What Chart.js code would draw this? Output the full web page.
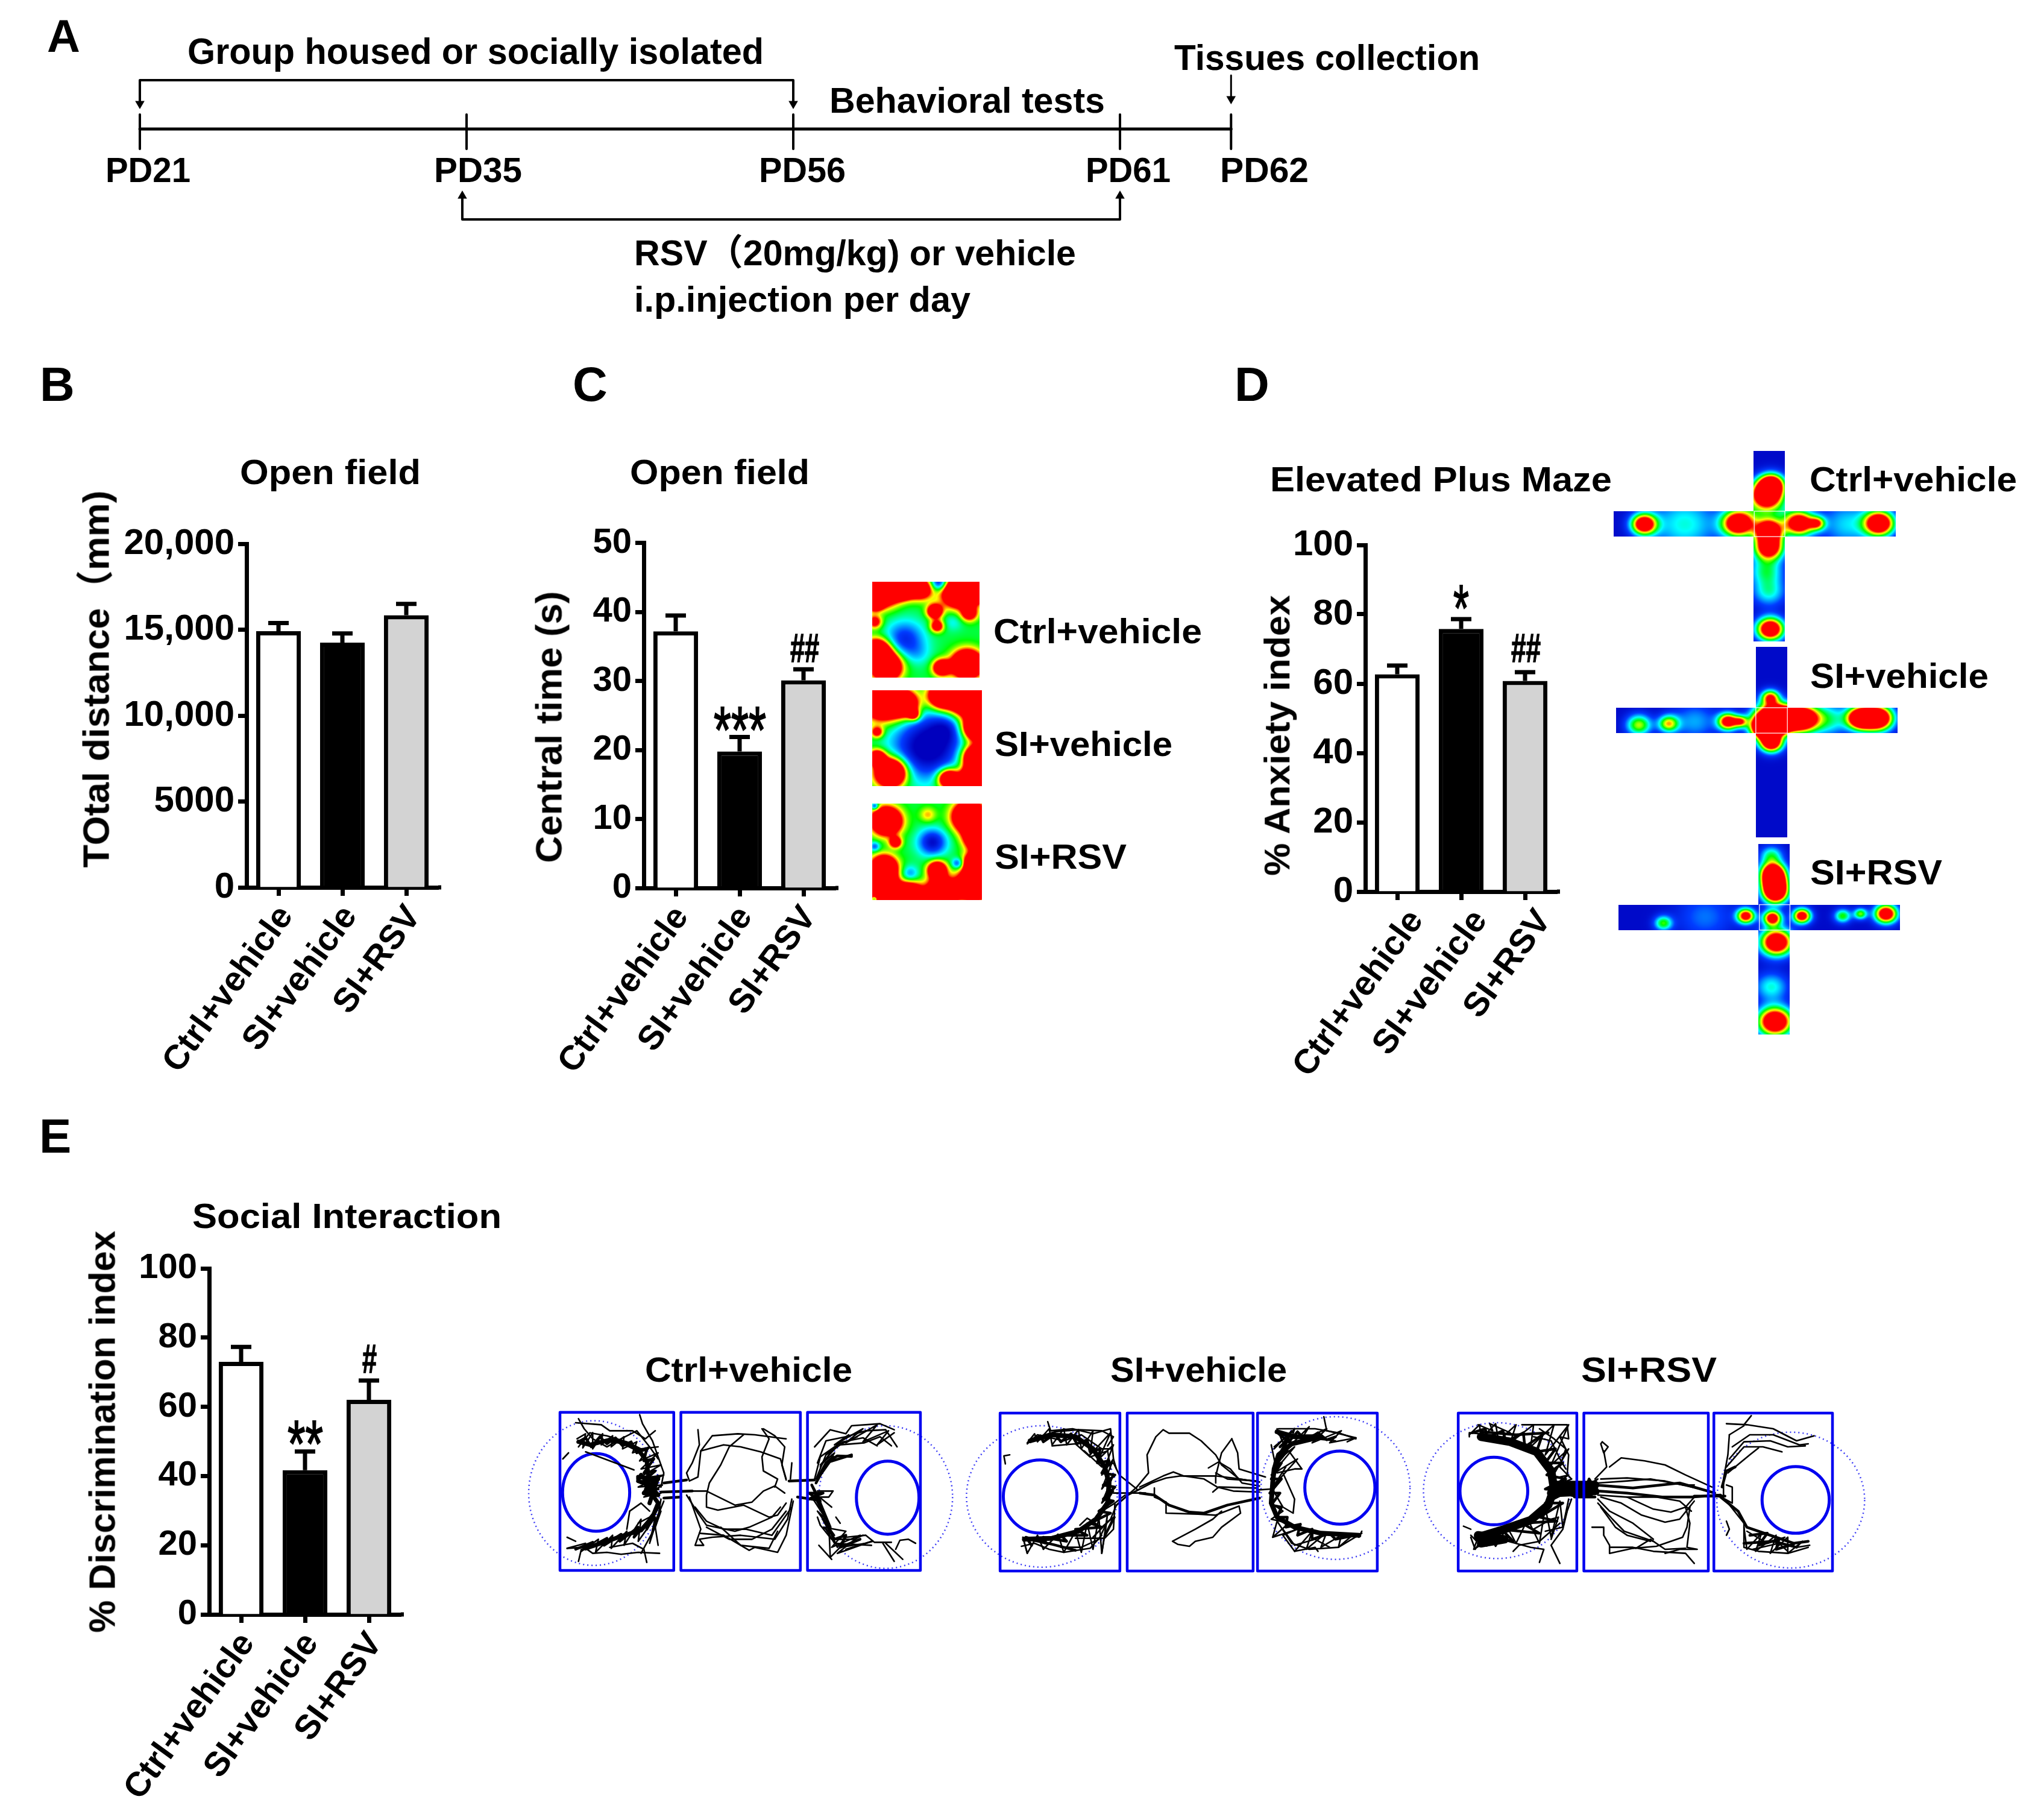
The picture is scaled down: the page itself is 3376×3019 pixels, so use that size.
<!DOCTYPE html>
<html>
<head>
<meta charset="utf-8">
<title>Social isolation behavior figure</title>
<script src="https://cdn.jsdelivr.net/npm/chart.js@4"></script>
<style>
    html, body { margin: 0; padding: 0; background: #fff; }
    #figure { position: relative; width: 3376px; height: 3019px; overflow: hidden; background: #fff; }
    #figure canvas { position: absolute; }
    .lbl { position: absolute; white-space: pre; color: #000; font-weight: bold; line-height: 1; font-family: "Liberation Sans", "Noto Sans CJK SC", sans-serif; }
    .star { font-weight: normal; -webkit-text-stroke: 2px #000; }
    .hash { -webkit-text-stroke: 1.5px #000; }
</style>
</head>
<body>
<div id="figure"></div>
<script>
// ---- bar data ----
const groups = ["Ctrl+vehicle", "SI+vehicle", "SI+RSV"];

const distanceMeans = [14910, 14250, 15840];
const distanceUpper = [15390, 14780, 16500];
const distanceTicks = ["0", "5000", "10,000", "15,000", "20,000"];

const centralMeans = [37.2, 19.8, 30.1];
const centralUpper = [39.5, 21.9, 31.7];

const anxietyMeans = [62.7, 75.8, 60.8];
const anxietyUpper = [65.2, 78.6, 63.3];

const discriminationMeans = [73.0, 41.7, 62.0];
const discriminationUpper = [77.3, 47.1, 67.6];

// ---- timeline ----
const timelineDays = ["PD21", "PD35", "PD56", "PD61", "PD62"];
const timelineSlots = [0, 1, 2, 3, 3.34];
const housingBracket = [[0, 172], [0, 133], [2, 133], [2, 172]];
const rsvBracket = [[0.987, 325], [0.987, 364], [3, 364], [3, 325]];
const tissuesArrow = [[3.34, 125], [3.34, 164]];

// ---- open field heat maps: x, y, radius, strength ----
const openCtrlBlobs = [[800,395,32,1.2],[830,385,22,.9],[850,392,20,.9],[885,392,22,.8],[785,425,15,.8],[965,400,30,1.2],[1000,395,25,1.2],[990,450,16,.6],[915,445,15,.8],[920,480,13,.6],[790,540,25,1.1],[810,575,28,1.2],[985,570,28,1.3],[930,578,17,.8],[785,470,14,.5],[850,510,30,-.35],[955,470,15,-.12],[880,545,20,-.1],[925,378,14,-.5]];
const openSiBlobs = [[805,660,35,1.2],[850,665,25,1],[870,690,12,.5],[930,645,25,1],[985,650,35,1.3],[1005,720,25,1.2],[1005,790,25,1.2],[1000,840,25,1.3],[945,840,20,1],[820,825,28,1.3],[790,790,16,.8],[790,730,12,.5],[900,765,55,-.6],[940,720,25,-.2]];
const openRsvBlobs = [[990,930,30,1.3],[1010,980,25,1.2],[1005,1040,22,1.2],[800,1100,30,1.3],[860,1115,25,1.2],[930,1108,28,1.2],[1000,1090,30,1.3],[810,940,28,1.2],[830,990,12,.6],[805,1050,25,1.1],[920,1055,18,.9],[910,990,22,-.45],[785,1000,8,-.3],[965,1040,9,-.35],[785,1122,6,-.5],[785,905,6,-.4],[900,925,16,.25],[860,1065,14,-.25]];

// ---- plus maze heat maps ----
const mazeCtrlBlobs = [[1040,170,28,1.1],[1050,145,22,1],[1045,255,24,1.1],[1045,295,26,1.1],[1048,487,24,1.2],[800,240,22,1.1],[985,238,28,1.2],[1105,238,26,1.1],[1140,238,14,.6],[1262,238,26,1.2],[1045,400,30,.35],[1040,350,30,.4],[880,240,60,.35],[1200,240,50,.3],[1045,200,40,.3]];
const mazeSiBlobs = [[1048,648,16,.75],[1050,700,32,1.3],[1035,720,22,1.1],[1070,700,24,1.3],[1050,755,20,1.1],[1110,698,28,1.3],[1225,697,24,1.3],[1260,697,26,1.3],[965,705,18,1],[990,705,12,.6],[848,710,18,.65],[790,713,22,.6],[1160,700,35,.4],[900,705,40,.25]];
const mazeRsvBlobs = [[1053,1060,22,1.1],[1056,1085,22,1.1],[1058,1110,22,1.1],[1050,1020,20,.4],[1052,1168,16,1],[1060,1225,28,1.2],[1000,1163,16,.95],[1110,1163,16,1],[1275,1158,20,1.1],[1225,1158,12,.55],[1190,1163,15,.5],[838,1180,16,.5],[1057,1412,30,1.25],[1050,1330,30,.35],[920,1165,50,.2]];

// ---- three chamber tracks ----
const ctrlBoxes = [[125,68,525,855],[550,68,970,855],[995,68,1392,855]];
const ctrlCups = [[252,467,118,193],[1277,493,110,182]];
const ctrlZones = [[245,470,230,360],[1270,490,235,355]];
const ctrlHeavy = [
    [[190,215],[230,230],[300,205],[350,220],[400,255],[430,310],[435,380],[430,430],[450,480],[470,520]],
    [[215,745],[280,715],[340,685],[410,655],[450,590],[470,520]],
    [[400,390],[470,400],[430,440],[460,470],[420,420],[400,410]],
    [[410,380],[470,480],[420,470],[470,390],[440,520]]
];
const ctrlMedium = [
    [[490,420],[570,405]], [[480,465],[590,460]], [[490,495],[550,490]],
    [[930,410],[1020,405]], [[960,490],[1030,505]],
    [[1150,288],[1100,285],[1060,320],[1030,400]],
    [[1000,500],[1050,470],[1000,470],[1040,510],[1010,430],[1040,520]],
    [[190,215],[215,195],[235,240],[265,190],[290,225],[320,195],[345,235],[375,215],[395,270],[430,250],[420,310],[455,300],[420,370],[460,360],[410,420],[465,400],[425,450],[470,450]],
    [[180,750],[240,715],[225,745],[290,695],[280,730],[340,675],[335,710],[400,640],[385,690],[440,600],[430,650],[470,540]],
    [[1025,420],[1060,330],[1040,380],[1085,290],[1060,320],[1150,280]],
    [[1040,520],[1075,640],[1050,600],[1090,700],[1130,680],[1110,740],[1180,700]]
];
const ctrlThin = [
    [[185,200],[215,175],[205,245],[240,170],[240,250],[275,175],[270,230],[310,185],[305,240],[350,190],[345,250],[395,215],[380,270],[440,240],[405,310],[470,270],[410,350],[480,330],[395,400],[490,380],[400,440],[485,430],[420,490],[480,470]],
    [[150,745],[215,720],[200,760],[260,700],[250,765],[310,680],[305,745],[360,660],[350,730],[410,600],[400,710],[460,590],[440,720],[480,540],[450,650],[490,510]],
    [[1030,400],[1090,270],[1040,330],[1110,220],[1060,280],[1140,180],[1090,230],[1190,150],[1130,220],[1240,130],[1190,215],[1280,160],[1240,230],[1300,170]],
    [[1020,490],[1060,600],[1030,560],[1090,680],[1050,640],[1130,660],[1080,740],[1180,680],[1100,770],[1220,710],[1130,750]],
    [[190,100],[210,150],[240,200],[290,240],[340,200],[395,160],[440,240],[470,300]],
    [[405,80],[415,125],[450,210],[470,290],[490,370],[480,440]],
    [[180,120],[270,130],[300,160],[380,160],[425,200],[460,160]],
    [[190,240],[230,170],[290,185],[360,215],[410,250],[470,240]],
    [[215,265],[300,310],[385,355]], [[135,300],[155,270]], [[150,690],[180,710]],
    [[150,745],[210,740],[240,770],[290,765],[340,775],[400,765],[475,770]],
    [[200,750],[190,810]], [[300,740],[380,720],[420,750],[430,815]],
    [[410,770],[460,640],[470,590],[480,500]], [[360,650],[370,560],[410,520],[440,560]],
    [[400,620],[440,590],[470,540]], [[470,730],[460,640],[480,560]],
    [[610,155],[615,230],[590,320],[570,370],[580,410],[610,390],[620,260],[660,185],[750,175],[810,180],[890,195],[920,200]],
    [[620,260],[700,230],[760,240],[830,265],[900,300],[920,400]],
    [[840,150],[880,185],[915,240],[905,330],[920,405]],
    [[770,180],[720,240],[690,330],[650,420],[640,480],[640,540],[680,555],[770,530],[860,590],[890,580],[920,520]],
    [[560,460],[640,460],[740,530],[800,515],[840,460],[880,435],[915,470]],
    [[835,150],[860,200],[835,290],[840,360],[890,400],[880,440]],
    [[570,480],[610,570],[640,630],[740,660],[790,640],[870,590],[900,540]],
    [[580,490],[620,650],[600,730],[630,730],[615,700],[660,690],[760,680],[880,700],[925,600],[940,500]],
    [[600,540],[640,610],[700,650],[780,650],[870,680],[940,540]],
    [[615,670],[700,680],[790,755],[810,740],[890,765],[920,680],[945,510]],
    [[640,640],[720,700],[800,700],[870,650],[920,560]],
    [[690,640],[760,730],[860,745],[890,660]], [[940,320],[935,400]],
    [[1020,240],[1075,155],[1130,175],[1150,135],[1250,125],[1300,155]],
    [[1030,320],[1060,210],[1130,190],[1200,160],[1270,155],[1310,240]],
    [[1025,400],[1060,280],[1110,230],[1195,220],[1250,190],[1290,235]],
    [[1040,340],[1080,260],[1120,215],[1190,195],[1240,235]],
    [[1020,400],[1040,290],[1090,240],[1170,190]],
    [[1030,460],[1085,460],[1070,490],[1030,490]],
    [[1020,480],[1060,590],[1080,680],[1100,740],[1130,690],[1200,680],[1230,715],[1290,715]],
    [[1010,490],[1070,620],[1075,790],[1110,740],[1200,720],[1225,710]],
    [[1035,730],[1080,800]], [[1030,590],[1040,630],[1080,700],[1160,700],[1190,680]],
    [[1060,650],[1090,720],[1220,730]], [[1260,720],[1300,810]], [[1270,720],[1330,800]],
    [[1305,750],[1320,705],[1350,700],[1375,720]], [[1095,590],[1110,620]], [[1020,470],[1080,540]]
];

const siBoxes = [[122,72,532,858],[557,72,988,858],[1003,72,1413,858]];
const siCups = [[259,487,126,182],[1285,443,120,182]];
const siZones = [[265,487,258,352],[1270,445,255,355]];
const siHeavy = [
    [[225,210],[300,180],[380,190],[440,250],[480,340],[495,420],[490,520],[450,600],[390,660],[300,695],[205,700]],
    [[1070,165],[1130,190],[1220,190],[1120,225],[1075,280],[1060,350],[1055,420],[1050,520],[1070,590],[1130,640],[1220,670],[1350,680]]
];
const siMedium = [
    [[220,700],[300,725],[380,755]],
    [[600,470],[650,480],[700,530],[770,565],[820,570],[900,530],[1010,495]],
    [[225,215],[260,185],[270,215],[310,175],[330,215],[365,175],[385,225],[420,205],[430,265],[465,250],[455,320],[495,310],[470,370],[515,380],[475,430],[515,440],[475,500],[510,510],[460,560],[500,570],[430,620],[470,640],[380,650],[420,680],[330,680],[350,710],[270,690],[280,720],[210,690],[230,730]],
    [[1075,175],[1110,215],[1140,165],[1170,210],[1210,170],[1240,205],[1270,190]],
    [[1080,240],[1110,200],[1075,290],[1105,260],[1060,340],[1085,320],[1050,400],[1085,400],[1045,470],[1080,470],[1050,530],[1085,540],[1070,590],[1105,590],[1100,640],[1150,625],[1140,680],[1190,650],[1190,700],[1250,670],[1270,700],[1340,680]]
];
const siThin = [
    [[215,220],[240,175],[250,215],[290,150],[300,230],[340,150],[350,230],[390,155],[400,250],[440,160],[430,280],[500,170],[460,300],[510,230],[470,380],[510,300],[470,450],[510,380],[470,520],[510,460],[460,570],[515,520]],
    [[200,690],[215,770],[250,680],[270,750],[320,675],[340,765],[380,660],[400,765],[420,620],[440,750],[460,590],[470,770],[490,570],[480,690],[515,590]],
    [[1070,150],[1090,220],[1130,150],[1110,240],[1180,140],[1150,210],[1240,150],[1190,220],[1290,160],[1250,220],[1340,195]],
    [[1060,250],[1120,160],[1060,320],[1130,240],[1050,380],[1140,300],[1060,430],[1100,340]],
    [[1050,520],[1090,560],[1050,600],[1110,620],[1055,690],[1140,650],[1090,680],[1130,760],[1190,660],[1170,750],[1240,665],[1220,740],[1290,680],[1280,740],[1360,670]],
    [[240,195],[310,165],[390,155],[470,160],[510,190],[490,235]],
    [[285,115],[295,160],[370,150],[440,175],[500,150],[510,300],[520,350]],
    [[215,225],[250,180],[340,210],[400,180],[470,250],[505,250]],
    [[300,235],[380,225],[430,290],[490,260],[500,350]],
    [[410,260],[470,340],[510,320],[530,380],[590,450]],
    [[140,325],[135,285],[155,280]],
    [[395,630],[420,595],[470,640],[510,590],[480,680],[470,770]],
    [[200,690],[215,770]],
    [[195,735],[240,720],[290,750],[340,765],[430,745],[470,680]],
    [[380,695],[480,695],[510,650],[515,520],[550,480]],
    [[440,690],[500,600],[520,530],[590,440]],
    [[330,740],[400,740],[460,700],[490,610]],
    [[520,530],[560,480],[600,450]], [[510,470],[580,470],[620,470]],
    [[590,440],[630,370],[625,280],[655,190],[680,155],[700,172],[770,172],[810,210],[860,280],[880,330],[940,400],[1010,415]],
    [[575,470],[640,420],[690,395],[740,385],[860,385],[920,395],[1010,415]],
    [[600,440],[680,385],[715,365],[750,385],[820,400],[865,440],[920,460],[1010,465]],
    [[850,465],[870,440],[1000,445]],
    [[650,445],[650,490],[690,515],[690,570],[800,575],[860,580],[940,535],[945,570],[880,640],[850,690],[790,710],[770,735],[730,725],[712,710],[790,650],[850,600],[880,560]],
    [[915,200],[880,270],[860,385],[860,420]],
    [[915,200],[935,270],[940,350],[1030,390]],
    [[835,345],[870,315],[910,350],[950,420],[1010,435]],
    [[860,370],[900,400],[1000,410]], [[1000,455],[1050,450]],
    [[1230,90],[1240,160],[1340,195],[1310,215]],
    [[1075,150],[1140,150],[1200,150],[1280,170],[1340,200]],
    [[1060,240],[1110,180],[1200,200],[1270,210]],
    [[1050,230],[1070,370],[1130,350],[1155,350],[1110,260]],
    [[1090,370],[1130,500],[1125,570],[1090,540],[1050,440]],
    [[1055,690],[1070,610],[1120,720],[1180,750],[1280,740],[1320,690]],
    [[1090,650],[1130,730],[1200,700],[1250,740]],
    [[1130,760],[1200,740],[1210,760]], [[1360,660],[1350,690]]
];

const rsvBoxes = [[122,72,528,858],[552,72,978,858],[997,72,1403,858]];
const rsvCups = [[244,460,116,168],[1277,504,115,166]];
const rsvZones = [[255,458,252,338],[1260,505,253,338]];
const rsvHeavy = [
    [[190,690],[280,650],[370,605],[430,530],[450,450],[440,360],[390,265],[300,215],[200,190]],
    [[460,430],[590,430]], [[440,470],[590,460]], [[190,680],[280,700],[200,720]]
];
const rsvMedium = [
    [[200,165],[320,180],[430,170]], [[590,430],[720,445],[880,420],[1000,470]],
    [[600,460],[700,470],[820,490],[920,490],[1020,480]],
    [[520,490],[590,490]], [[930,485],[1035,485]], [[1025,440],[1040,360],[1070,340]],
    [[1020,490],[1080,560],[1110,640],[1210,690],[1270,720],[1320,710]],
    [[1100,720],[1200,710],[1280,740]],
    [[170,170],[215,150],[220,195],[275,160],[285,215],[345,170],[350,240],[410,180],[390,265],[455,250],[420,320],[480,320],[425,380],[490,400],[420,450],[500,460],[420,520],[480,520],[400,590],[460,610],[340,620],[400,670],[270,650],[310,710],[200,680],[220,730]],
    [[1120,680],[1180,670],[1150,730],[1220,700],[1210,750],[1270,725]],
    [[520,420],[550,480],[570,400],[600,470]]
];
const rsvThin = [
    [[160,180],[195,130],[200,200],[250,125],[260,210],[320,130],[300,220],[380,130],[370,240],[450,130],[420,280],[500,130],[440,330],[500,250],[440,400],[500,380],[430,450],[510,400]],
    [[165,690],[180,750],[220,660],[250,735],[290,640],[320,720],[360,600],[400,720],[420,540],[440,690],[470,510],[480,640],[500,500]],
    [[1100,640],[1110,750],[1160,670],[1140,760],[1210,680],[1190,770],[1250,690],[1250,770],[1300,710],[1280,740],[1325,730]],
    [[480,400],[580,480],[500,480],[600,400],[530,490],[590,440]],
    [[340,130],[440,130],[495,130],[500,200],[470,190],[500,280],[495,380]],
    [[380,190],[440,210],[470,300],[490,350]],
    [[400,150],[450,200],[490,250],[470,340],[510,400]],
    [[190,130],[240,160],[230,125],[300,170]], [[160,190],[160,170],[200,175]],
    [[140,635],[165,650]],
    [[165,680],[185,710],[175,750],[210,720],[280,705],[370,740],[415,750],[400,815]],
    [[470,820],[440,730],[480,650],[495,560],[510,500]],
    [[310,760],[330,730],[400,710],[470,620]],
    [[380,650],[440,600],[465,590],[440,700]], [[420,660],[480,640]], [[500,480],[525,490]],
    [[615,215],[635,240],[620,270],[610,225],[615,215]],
    [[620,260],[630,340],[590,400]],
    [[640,340],[680,295],[760,310],[830,330],[900,380],[990,440]],
    [[610,400],[700,395],[830,410],[980,460]],
    [[600,420],[700,410],[780,400],[890,430],[930,430]],
    [[600,480],[700,490],[790,550],[850,565],[900,540],[930,490]],
    [[610,490],[680,520],[750,580],[830,615],[880,600],[930,510]],
    [[600,500],[640,560],[720,620],[790,700]],
    [[600,520],[650,600],[690,660],[790,710]],
    [[610,540],[660,640],[700,680],[780,710]],
    [[580,640],[620,640],[620,680],[640,730],[640,770],[720,745],[800,735],[890,690],[905,640],[915,540]],
    [[640,740],[720,740],[790,760],[900,770],[930,820]],
    [[900,540],[915,620],[905,740],[940,750],[880,750],[830,770]],
    [[730,745],[780,700],[830,750],[900,745]],
    [[700,490],[800,490],[880,510],[920,560]],
    [[1040,125],[1110,130],[1200,150],[1280,210],[1340,185]],
    [[1100,130],[1125,85]], [[1050,180],[1100,135]],
    [[1050,180],[1045,280],[1030,400],[1030,480]],
    [[1060,240],[1120,180],[1200,180],[1290,230],[1320,225]],
    [[1050,300],[1100,215],[1190,210],[1250,240],[1310,235]],
    [[1040,340],[1100,240],[1165,240],[1230,265]],
    [[1045,370],[1120,280],[1150,245]],
    [[1040,510],[1100,620],[1100,740],[1150,760],[1250,770],[1320,740]],
    [[1110,660],[1180,720],[1240,690]], [[1040,610],[1050,650],[1040,680]],
    [[1130,750],[1220,720],[1250,760]], [[1010,480],[1060,520],[1060,440],[1040,430]]
];

// ---- page texts: start x, baseline y, font size, length, angle, class ----
const pageLabels = [
    ["A", 78, 86, 76], ["B", 66, 666, 80], ["C", 950, 666, 80], ["D", 2048, 666, 80], ["E", 65, 1913, 80],
    ["Group housed or socially isolated", 311, 106, 62, 956],
    ["Tissues collection", 1948, 117, 60, 507],
    ["Behavioral tests", 1376, 188, 60, 457],
    [timelineDays[0], 175, 302, 57, 141], [timelineDays[1], 720, 302, 57, 146], [timelineDays[2], 1259, 302, 57, 144],
    [timelineDays[3], 1801, 302, 57, 141], [timelineDays[4], 2024, 302, 57, 147],
    ["RSV（20mg/kg) or vehicle", 1052, 441, 60, 733],
    ["i.p.injection per day", 1052, 518, 60, 558],
    ["Open field", 398, 803, 58, 300], ["Open field", 1045, 803, 58, 298],
    ["Elevated Plus Maze", 2107, 815, 58, 567], ["Social Interaction", 319, 2037, 58, 513],
    ["TOtal distance（mm)", 181, 1439, 62, 626, -90], ["Central time (s)", 932, 1431, 62, 451, -90],
    ["% Anxiety index", 2140, 1453, 60, 468, -90], ["% Discrimination index", 191, 2708, 62, 667, -90],
    [groups[0], 1648, 1067, 58, 346], [groups[1], 1650, 1254, 58, 295], [groups[2], 1650, 1441, 58, 219],
    [groups[0], 3002, 815, 58, 344], [groups[1], 3003, 1141, 58, 296], [groups[2], 3003, 1467, 58, 219],
    [groups[0], 1070, 2292, 58, 344], [groups[1], 1842, 2292, 58, 293], [groups[2], 2623, 2292, 58, 225],
    ["***", 1184, 1248, 110, 87, 0, "star"], ["##", 1311, 1098, 66, 48, 0, "hash"], ["*", 2411, 1046, 110, 26, 0, "star"],
    ["##", 2507, 1098, 66, 49, 0, "hash"], ["**", 477, 2432, 110, 59, 0, "star"], ["#", 601, 2277, 66, 24, 0, "hash"]
];

const figure = document.getElementById("figure");
const BLACK = "#000", BLUE = "#0000f0";
const FONT_FAMILY = '"Liberation Sans", sans-serif';

function addCanvas(left, top, width, height) {
    const c = document.createElement("canvas");
    c.width = width;
    c.height = height;
    c.style.cssText = `left:${left}px;top:${top}px;width:${width}px;height:${height}px`;
    figure.appendChild(c);
    return c;
}

// error bar (upper only) and the small overrun of the x axis
const capsPlugin = {
    id: "upperCaps",
    afterDatasetsDraw(chart, args, opts) {
        const ctx = chart.ctx, y = chart.scales.y;
        ctx.save();
        ctx.strokeStyle = BLACK;
        ctx.lineWidth = 7;
        chart.getDatasetMeta(0).data.forEach((bar, i) => {
            const top = y.getPixelForValue(opts.upper[i]);
            ctx.beginPath();
            ctx.moveTo(bar.x, bar.y);
            ctx.lineTo(bar.x, top);
            ctx.moveTo(bar.x - 17, top);
            ctx.lineTo(bar.x + 17, top);
            ctx.stroke();
        });
        ctx.beginPath();
        ctx.moveTo(chart.chartArea.right, chart.chartArea.bottom);
        ctx.lineTo(chart.chartArea.right + 5, chart.chartArea.bottom);
        ctx.stroke();
        ctx.restore();
    }
};

function barChart(box, plot, values, upper, yMax, yStep, tickFormat, tickSize, labelShift) {
    const c = addCanvas(box.left, box.top, box.right - box.left, box.bottom - box.top);
    return new Chart(c, {
        type: "bar",
        data: {
            labels: groups,
            datasets: [{
                data: values,
                backgroundColor: ["#ffffff", "#000000", "#d3d3d3"],
                borderColor: BLACK,
                borderWidth: 7,
                categoryPercentage: 1,
                barPercentage: 0.7
            }]
        },
        options: {
            responsive: false,
            animation: false,
            devicePixelRatio: 1,
            layout: { padding: { top: plot.top - box.top, right: box.right - plot.right, left: 0, bottom: 0 } },
            plugins: { legend: { display: false }, tooltip: { enabled: false }, upperCaps: { upper: upper } },
            scales: {
                x: {
                    afterFit: s => { s.height = box.bottom - plot.bottom; },
                    border: { width: 7, color: BLACK },
                    grid: { offset: false, drawOnChartArea: false, tickLength: 14, tickWidth: 7, tickColor: BLACK },
                    ticks: {
                        autoSkip: false, minRotation: 54, maxRotation: 54, padding: 4, labelOffset: labelShift,
                        color: BLACK, font: { family: FONT_FAMILY, weight: "bold", size: 57 }
                    }
                },
                y: {
                    min: 0, max: yMax,
                    afterFit: s => { s.width = plot.left - box.left; },
                    border: { width: 7, color: BLACK },
                    grid: { drawOnChartArea: false, tickLength: 14, tickWidth: 7, tickColor: BLACK },
                    ticks: {
                        stepSize: yStep, padding: 6, callback: tickFormat,
                        color: BLACK, font: { family: FONT_FAMILY, weight: "bold", size: tickSize }
                    }
                }
            }
        },
        plugins: [capsPlugin]
    });
}

// the y scale box has to be wider than the overhang of the first rotated label
const plainNumber = v => String(v);
barChart({ left: 89, top: 860, right: 760, bottom: 1830 }, { left: 409, right: 727, top: 899, bottom: 1472 },
    distanceMeans, distanceUpper, 20000, 5000, v => distanceTicks[v / 5000], 60, 13);
barChart({ left: 748, top: 860, right: 1440, bottom: 1830 }, { left: 1068, right: 1386, top: 899, bottom: 1473 },
    centralMeans, centralUpper, 50, 10, plainNumber, 58, 10);
barChart({ left: 1945, top: 860, right: 2640, bottom: 1830 }, { left: 2265, right: 2583, top: 904, bottom: 1479 },
    anxietyMeans, anxietyUpper, 100, 20, plainNumber, 60, 32);
barChart({ left: 27, top: 2060, right: 700, bottom: 3010 }, { left: 347, right: 665, top: 2104, bottom: 2678 },
    discriminationMeans, discriminationUpper, 100, 20, plainNumber, 58, 11);

// hidden axes chart whose scales carry a diagram in its own units
function diagramChart(box, xRange, yRange, datasets, plugins) {
    const c = addCanvas(box.left, box.top, box.right - box.left, box.bottom - box.top);
    return new Chart(c, {
        type: "scatter",
        data: { datasets: datasets },
        options: {
            responsive: false,
            animation: false,
            devicePixelRatio: 1,
            layout: { padding: 0, autoPadding: false },
            plugins: { legend: { display: false }, tooltip: { enabled: false } },
            scales: {
                x: { type: "linear", display: false, min: xRange[0], max: xRange[1] },
                y: { type: "linear", display: false, min: yRange[0], max: yRange[1], reverse: true }
            }
        },
        plugins: plugins || []
    });
}

function pathSet(data, width, color) {
    return {
        data: data, showLine: true, pointRadius: 0, borderColor: color, borderWidth: width,
        borderJoinStyle: "round", borderCapStyle: "round"
    };
}

function arrowSet(data, width, rotation, ends) {
    return Object.assign(pathSet(data, width, BLACK), {
        pointStyle: "triangle",
        pointRotation: rotation,
        pointBackgroundColor: BLACK,
        pointBorderColor: BLACK,
        pointBorderWidth: 0,
        pointRadius: ctx => ends.includes(ctx.dataIndex) ? 9 : 0
    });
}

// panel A
const mainLine = timelineSlots.map(s => [s, 214]);
const timelineSets = [pathSet(mainLine, 5, BLACK)];
timelineSlots.forEach(s => timelineSets.push(pathSet([[s, 190], [s, 247]], 4, BLACK)));
timelineSets.push(arrowSet(housingBracket, 4, 180, [0, 3]));
timelineSets.push(arrowSet(rsvBracket, 4, 0, [0, 3]));
timelineSets.push(arrowSet(tissuesArrow, 3, 180, [1]));
diagramChart({ left: 0, top: 0, right: 3376, bottom: 600 }, [-232 / 542, (3376 - 232) / 542], [0, 600], timelineSets);

// jet style colour ramp
const rampStops = [[0, 0, 0, 190], [.18, 0, 60, 255], [.36, 0, 255, 255], [.52, 0, 255, 0], [.68, 255, 255, 0], [.85, 255, 0, 0], [1, 255, 0, 0]];
function rampColor(v) {
    v = Math.max(0, Math.min(1, v));
    for (let i = 1; i < rampStops.length; i++) {
        const a = rampStops[i - 1], b = rampStops[i];
        if (v <= b[0]) {
            const t = (v - a[0]) / (b[0] - a[0]);
            return [a[1] + t * (b[1] - a[1]), a[2] + t * (b[2] - a[2]), a[3] + t * (b[3] - a[3])];
        }
    }
    return [255, 0, 0];
}

function densityField(maps) {
    return {
        id: "densityField",
        beforeDatasetsDraw(chart) {
            const ctx = chart.ctx, sx = chart.scales.x, sy = chart.scales.y;
            maps.forEach(m => {
                m.rects.forEach(r => {
                    const x0 = Math.round(sx.getPixelForValue(r[0])), x1 = Math.round(sx.getPixelForValue(r[2]));
                    const y0 = Math.round(sy.getPixelForValue(r[1])), y1 = Math.round(sy.getPixelForValue(r[3]));
                    const img = ctx.createImageData(x1 - x0, y1 - y0);
                    for (let py = y0; py < y1; py++) {
                        const uy = sy.getValueForPixel(py);
                        for (let px = x0; px < x1; px++) {
                            const ux = sx.getValueForPixel(px);
                            let f = m.base;
                            m.blobs.forEach(b => {
                                const d2 = (ux - b[0]) * (ux - b[0]) + (uy - b[1]) * (uy - b[1]);
                                const s = b[3] > 0 ? b[2] * m.spread : b[2];
                                f += b[3] * Math.exp(-d2 / (2 * s * s));
                            });
                            const col = rampColor(f), k = ((py - y0) * (x1 - x0) + (px - x0)) * 4;
                            img.data[k] = col[0];
                            img.data[k + 1] = col[1];
                            img.data[k + 2] = col[2];
                            img.data[k + 3] = 255;
                        }
                    }
                    ctx.putImageData(img, x0, y0);
                });
                if (m.hub) {
                    ctx.save();
                    ctx.strokeStyle = "rgba(255,255,255,0.8)";
                    ctx.lineWidth = 1.5;
                    const hx = sx.getPixelForValue(m.hub[0]), hy = sy.getPixelForValue(m.hub[1]);
                    ctx.strokeRect(hx, hy, sx.getPixelForValue(m.hub[2]) - hx, sy.getPixelForValue(m.hub[3]) - hy);
                    ctx.restore();
                }
            });
        }
    };
}

// panel C squares
diagramChart({ left: 1447, top: 965, right: 1629, bottom: 1493 }, [780, 1018], [376, 1127], [], [densityField([
    { base: .48, spread: .78, blobs: openCtrlBlobs, rects: [[780, 376, 1013, 602]] },
    { base: .52, spread: .78, blobs: openSiBlobs, rects: [[780, 632, 1018, 858]] },
    { base: .48, spread: .78, blobs: openRsvBlobs, rects: [[780, 900, 1018, 1127]] }
])]);

// panel D crosses
diagramChart({ left: 2677, top: 748, right: 3152, bottom: 1716 }, [741, 1303], [68, 1443], [], [densityField([
    { base: .03, spread: .78, blobs: mazeCtrlBlobs, rects: [[1015, 68, 1077, 517], [741, 210, 1295, 270]], hub: [1017, 210, 1077, 270] },
    { base: .03, spread: .78, blobs: mazeSiBlobs, rects: [[1020, 530, 1082, 978], [746, 673, 1298, 733]], hub: [1020, 673, 1082, 733] },
    { base: .03, spread: .78, blobs: mazeRsvBlobs, rects: [[1025, 994, 1087, 1443], [751, 1137, 1303, 1197]], hub: [1027, 1137, 1087, 1197] }
])]);

// rings drawn through the scales so they stay in arena units
function arenaRings(cups, zones) {
    return {
        id: "arenaRings",
        beforeDatasetsDraw(chart) {
            const ctx = chart.ctx, sx = chart.scales.x, sy = chart.scales.y;
            const ring = r => {
                const cx = sx.getPixelForValue(r[0]), cy = sy.getPixelForValue(r[1]);
                ctx.beginPath();
                ctx.ellipse(cx, cy, Math.abs(sx.getPixelForValue(r[0] + r[2]) - cx), Math.abs(sy.getPixelForValue(r[1] + r[3]) - cy), 0, 0, Math.PI * 2);
                ctx.stroke();
            };
            ctx.save();
            ctx.strokeStyle = "#3a3af5";
            ctx.lineWidth = 2.5;
            ctx.setLineDash([2, 5]);
            zones.forEach(ring);
            ctx.setLineDash([]);
            ctx.strokeStyle = BLUE;
            ctx.lineWidth = 5;
            cups.forEach(ring);
            ctx.restore();
        }
    };
}

function trackChart(left, width, boxes, cups, zones, heavy, heavyWidth, medium, thin) {
    const sets = [];
    boxes.forEach(b => sets.push(pathSet([[b[0], b[1]], [b[2], b[1]], [b[2], b[3]], [b[0], b[3]], [b[0], b[1]]], 4.5, BLUE)));
    thin.forEach(p => sets.push(pathSet(p, 2.6, BLACK)));
    medium.forEach(p => sets.push(pathSet(p, 4.5, BLACK)));
    heavy.forEach(p => sets.push(pathSet(p, heavyWidth, BLACK)));
    diagramChart({ left: left, top: 2320, right: left + width, bottom: 2640 }, [0, 1568], [0, 960], sets, [arenaRings(cups, zones)]);
}
trackChart(870, 740, ctrlBoxes, ctrlCups, ctrlZones, ctrlHeavy, 7, ctrlMedium, ctrlThin);
trackChart(1600, 760, siBoxes, siCups, siZones, siHeavy, 8, siMedium, siThin);
trackChart(2360, 760, rsvBoxes, rsvCups, rsvZones, rsvHeavy, 14, rsvMedium, rsvThin);

// page texts, stretched to the measured length
const measure = document.createElement("canvas").getContext("2d");
pageLabels.forEach(l => {
    const [text, x, y, size, length, angle, extra] = l;
    const el = document.createElement("div");
    el.className = extra ? "lbl " + extra : "lbl";
    el.textContent = text;
    el.style.fontSize = size + "px";
    const baseFromTop = 0.8465 * size;
    el.style.left = x + "px";
    el.style.top = (y - baseFromTop) + "px";
    el.style.transformOrigin = `0 ${baseFromTop}px`;
    measure.font = `${extra === "star" ? "normal" : "bold"} ${size}px "Liberation Sans", "Noto Sans CJK SC", sans-serif`;
    const k = length ? length / measure.measureText(text).width : 1;
    el.style.transform = `rotate(${angle || 0}deg) scaleX(${k})`;
    figure.appendChild(el);
});
</script>
</body>
</html>
